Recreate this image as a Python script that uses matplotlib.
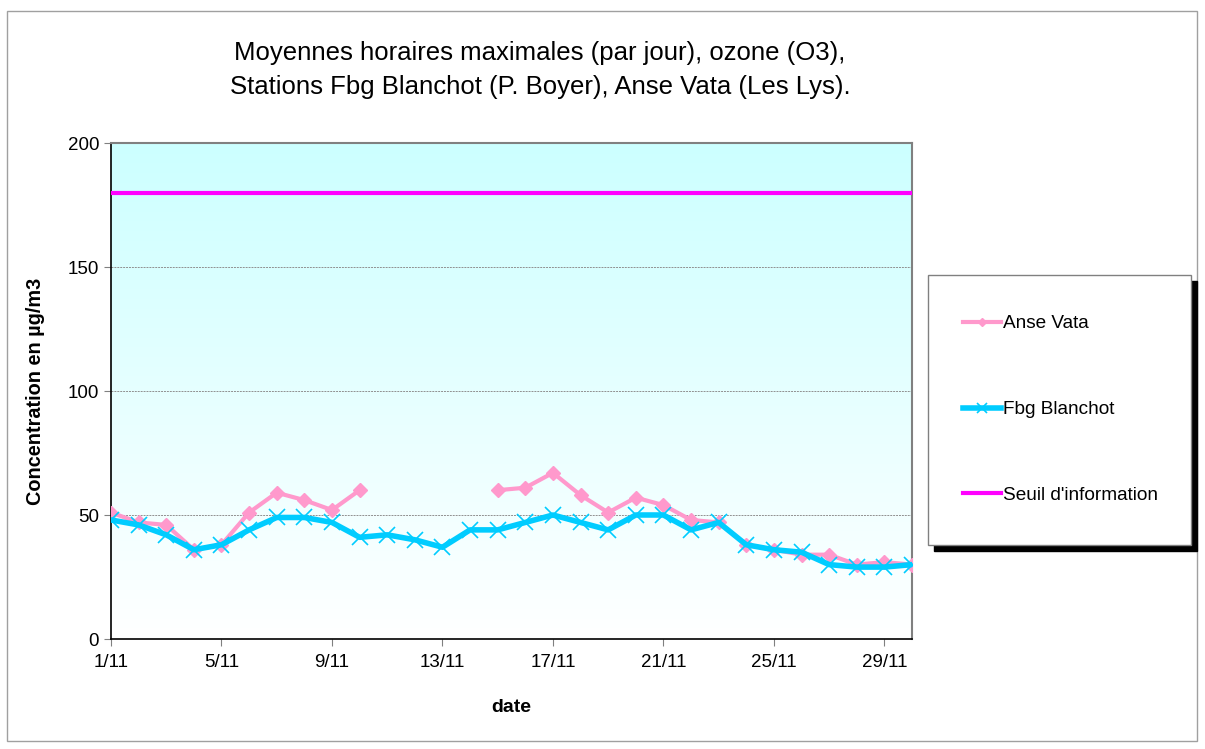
import matplotlib
matplotlib.use('Agg')
import matplotlib.pyplot as plt
import numpy as np
from matplotlib.patches import Rectangle

plt.rcParams['font.family'] = ['Liberation Sans', 'DejaVu Sans']

days = list(range(1, 31))
anse_vata = [51, 47, 46, 36, 38, 51, 59, 56, 52, 60,
             np.nan, np.nan, np.nan, np.nan, 60, 61, 67, 58, 51, 57,
             54, 48, 47, 38, 36, 34, 34, 30, 31, 30]
fbg_blanchot = [48, 46, 42, 36, 38, 44, 49, 49, 47, 41,
                42, 40, 37, 44, 44, 47, 50, 47, 44, 50,
                50, 44, 47, 38, 36, 35, 30, 29, 29, 30]
seuil = 180
tick_days = [1, 5, 9, 13, 17, 21, 25, 29]
tick_labels = ["%d/11" % d for d in tick_days]

fig = plt.figure(figsize=(12.05, 7.49), dpi=100)
ax = fig.add_axes([111 / 1205, 110 / 749, 801 / 1205, 496 / 749])

# outer chart border
fig.patches.append(Rectangle((7 / 1205, 8 / 749), 1190 / 1205, 730 / 749,
                             transform=fig.transFigure, fill=False,
                             edgecolor='#a0a0a0', linewidth=1))

# gradient background
grad = np.linspace(0, 1, 256).reshape(-1, 1)
top = np.array([0.8, 1.0, 1.0])
bottom = np.array([1.0, 1.0, 1.0])
img = top * (1 - grad[..., None]) + bottom * grad[..., None]
ax.imshow(img, extent=[1, 30, 0, 200], aspect='auto', zorder=0,
          origin='upper')

ax.set_xlim(1, 30)
ax.set_ylim(0, 200)

for yv in [50, 100, 150]:
    ax.axhline(yv, color='#909090', linewidth=0.7, linestyle=(0, (2, 1)), zorder=1)

ax.plot(days, anse_vata, color='#ff99cc', linewidth=3, marker='D',
        markersize=7, label='Anse Vata', zorder=3)
ax.plot(days, fbg_blanchot, color='#00ccff', linewidth=4, marker='x',
        markersize=12, markeredgewidth=1.2, label='Fbg Blanchot', zorder=4)
ax.plot(days, [seuil] * len(days), color='#ff00ff', linewidth=3,
        label="Seuil d'information", zorder=5)

ax.set_xticks(tick_days)
ax.set_xticklabels(tick_labels, fontsize=13.5)
ax.set_yticks([0, 50, 100, 150, 200])
ax.tick_params(axis='y', labelsize=13.5, direction='out', length=5, width=0.8, color='#808080')
ax.tick_params(axis='x', direction='out', length=5, width=0.8, color='#808080', pad=6)

for s in ['top', 'right']:
    ax.spines[s].set_color('#808080')
    ax.spines[s].set_linewidth(1.5)
for s in ['left', 'bottom']:
    ax.spines[s].set_color('black')
    ax.spines[s].set_linewidth(1.2)

ax.set_xlabel('date', fontsize=14, fontweight='bold', labelpad=20)
ax.set_ylabel('Concentration en µg/m3', fontsize=14.3, fontweight='bold', labelpad=16)

fig.text(540 / 1205, 1 - 70 / 749,
         "Moyennes horaires maximales (par jour), ozone (O3),\n"
         "Stations Fbg Blanchot (P. Boyer), Anse Vata (Les Lys).",
         ha='center', va='center', fontsize=18.5, linespacing=1.55)

# legend box with shadow
lx0, ly0, lw, lh = 928, 275, 263, 270
fig.patches.append(Rectangle(((lx0 + 6) / 1205, 1 - (ly0 + lh + 6) / 749),
                             lw / 1205, lh / 749, transform=fig.transFigure,
                             facecolor='black', edgecolor='black', zorder=1))
fig.patches.append(Rectangle((lx0 / 1205, 1 - (ly0 + lh) / 749),
                             lw / 1205, lh / 749, transform=fig.transFigure,
                             facecolor='white', edgecolor='#808080',
                             linewidth=1, zorder=2))
handles, labels = ax.get_legend_handles_labels()
leg = fig.legend(handles, labels, loc='upper left',
                 bbox_to_anchor=(946 / 1205, 1 - 298 / 749),
                 frameon=False, fontsize=13.7, handlelength=2.0,
                 handletextpad=0.1, labelspacing=3.6, markerscale=0.6)

fig.savefig('out.png', dpi=100)
